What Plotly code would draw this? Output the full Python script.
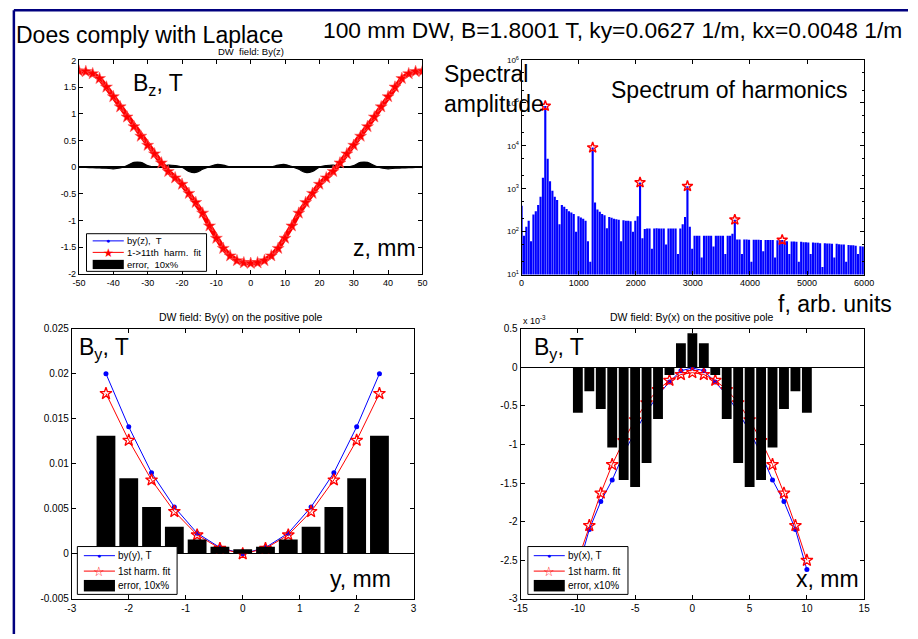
import plotly.graph_objects as go

# ---------------- data ----------------
# Top-left: By(z) along the DW, measured vs 1->11th harmonic fit, error (x10 %)
z_mm = list(range(-50, 52, 2))
bz_meas = [1.80, 1.79, 1.75, 1.66, 1.50, 1.32, 1.13, 0.94, 0.76, 0.58, 0.41, 0.25, 0.08,
           -0.08, -0.20, -0.32, -0.49, -0.66, -0.86, -1.10, -1.33, -1.52, -1.66, -1.75, -1.79, -1.80,
           -1.79, -1.75, -1.66, -1.52, -1.33, -1.10, -0.86, -0.66, -0.49, -0.32, -0.20, -0.08,
           0.08, 0.25, 0.41, 0.58, 0.76, 0.94, 1.13, 1.32, 1.50, 1.66, 1.75, 1.79, 1.80]
bz_fit = [1.80, 1.79, 1.75, 1.66, 1.50, 1.32, 1.13, 0.94, 0.76, 0.58, 0.41, 0.25, 0.08,
          -0.08, -0.20, -0.32, -0.49, -0.66, -0.86, -1.10, -1.33, -1.52, -1.66, -1.75, -1.79, -1.80,
          -1.79, -1.75, -1.66, -1.52, -1.33, -1.10, -0.86, -0.66, -0.49, -0.32, -0.20, -0.08,
          0.08, 0.25, 0.41, 0.58, 0.76, 0.94, 1.13, 1.32, 1.50, 1.66, 1.75, 1.79, 1.80]
err_z = [0.0, -0.005, -0.01, -0.015, -0.02, -0.03, -0.015, 0.03, 0.09, 0.09, 0.03, 0.0, 0.01,
         0.04, 0.03, 0.0, -0.08, -0.10, -0.04, 0.01, 0.05, 0.04, 0.005, -0.005, 0.0, 0.0,
         0.0, -0.005, 0.005, 0.04, 0.05, 0.01, -0.04, -0.10, -0.08, 0.0, 0.03, 0.04,
         0.01, 0.0, 0.03, 0.09, 0.09, 0.03, -0.015, -0.03, -0.02, -0.015, -0.01, -0.005, 0.0]

# Top-right: spectrum of harmonics (bin width 41.5 arb. units)
bin_step = 41.5
spec_amp = [400, 80, 130, 180, 60, 250, 300, 420, 650, 1800,
            85000, 5000, 1500, 900, 650, 550, 150, 420, 380, 340,
            300, 280, 260, 100, 230, 215, 200, 180, 60, 20,
            9100, 480, 330, 290, 260, 240, 120, 220, 210, 200,
            195, 190, 60, 185, 180, 180, 175, 100, 180, 230,
            1400, 70, 115, 118, 118, 40, 118, 120, 118, 118,
            118, 50, 118, 118, 118, 118, 30, 118, 150, 220,
            1150, 130, 40, 80, 80, 80, 25, 80, 80, 80,
            80, 45, 80, 80, 80, 80, 30, 80, 80, 90,
            190, 66, 66, 30, 66, 66, 65, 20, 65, 65,
            65, 64, 35, 64, 64, 64, 64, 25, 63, 63,
            64, 60, 60, 30, 59, 59, 58, 20, 58, 57,
            57, 56, 30, 56, 55, 55, 54, 15, 54, 53,
            53, 52, 25, 52, 51, 50, 50, 20, 49, 48,
            48, 47, 30, 46, 45]
spec_f = [bin_step * k for k in range(len(spec_amp))]
harm_f = [415, 1245, 2075, 2905, 3735, 4565]
harm_amp = [85000, 9100, 1400, 1150, 190, 64]

# Bottom-left: By(y) on the positive pole
y_mm = [-2.4, -2.0, -1.6, -1.2, -0.8, -0.4, 0.0, 0.4, 0.8, 1.2, 1.6, 2.0, 2.4]
by_y = [0.0200, 0.0141, 0.0090, 0.0052, 0.0023, 0.0007, 0.0, 0.0007, 0.0023, 0.0052, 0.0090, 0.0141, 0.0200]
fit_y = [0.0178, 0.0126, 0.0082, 0.0047, 0.0021, 0.0006, 0.0, 0.0006, 0.0021, 0.0047, 0.0082, 0.0126, 0.0178]
err_y = [0.0131, 0.0084, 0.0052, 0.0030, 0.0016, 0.0008, 0.0005, 0.0008, 0.0016, 0.0030, 0.0052, 0.0084, 0.0131]

# Bottom-right: By(x) on the positive pole (units of 1e-3 T)
x_mm = list(range(-10, 11))
by_x = [-2.62, -2.10, -1.74, -1.46, -1.12, -0.83, -0.58, -0.36, -0.19, -0.045, -0.01,
        -0.045, -0.19, -0.36, -0.58, -0.83, -1.12, -1.46, -1.74, -2.10, -2.62]
fit_x = [-2.50, -2.05, -1.63, -1.26, -0.95, -0.68, -0.46, -0.29, -0.17, -0.094, -0.07,
         -0.094, -0.17, -0.29, -0.46, -0.68, -0.95, -1.26, -1.63, -2.05, -2.50]
err_x = [-0.59, -0.31, -0.54, -1.04, -1.46, -1.55, -1.24, -0.67, -0.10, 0.31, 0.44,
         0.31, -0.10, -0.67, -1.24, -1.55, -1.46, -1.04, -0.54, -0.31, -0.59]

# ---------------- layout helpers ----------------
W, H = 918, 639
FONT = "Liberation Sans, Arial, Helvetica, sans-serif"


def fx(p):
    return p / W


def fy(p):
    return 1 - p / H


def fmt(v):
    return f"{v:g}"


def axis(dom, rng, vals, size, anchor, texts=None, **kw):
    d = dict(domain=dom, range=rng, tickvals=vals,
             ticktext=texts if texts is not None else [fmt(v) for v in vals],
             ticks="inside", ticklen=4, tickwidth=1, tickcolor="black",
             showline=True, linecolor="black", linewidth=1, mirror="ticks",
             showgrid=False, zeroline=False, anchor=anchor,
             tickfont=dict(family=FONT, size=size, color="black"))
    d.update(kw)
    return d


fig = go.Figure()

# --- top-left ---
fig.add_trace(go.Scatter(x=z_mm, y=err_z, mode="lines", fill="tozeroy", fillcolor="black",
                         line=dict(color="black", width=1.2, shape="spline"),
                         xaxis="x", yaxis="y", showlegend=False))
fig.add_trace(go.Scatter(x=z_mm, y=bz_meas, mode="lines+markers",
                         line=dict(color="blue", width=1), marker=dict(color="blue", size=4),
                         xaxis="x", yaxis="y", showlegend=False))
fig.add_trace(go.Scatter(x=z_mm, y=bz_fit, mode="lines+markers",
                         line=dict(color="red", width=5),
                         marker=dict(symbol="star", color="red", size=9, line=dict(width=0.6, color="#ff6060")),
                         xaxis="x", yaxis="y", showlegend=False))

# --- top-right ---
fig.add_trace(go.Bar(x=spec_f, y=spec_amp, width=bin_step * 0.9, marker_color="blue",
                     marker_line_width=0, xaxis="x2", yaxis="y2", showlegend=False))
fig.add_trace(go.Scatter(x=harm_f, y=harm_amp, mode="markers",
                         marker=dict(symbol="star-open", color="red", size=8, line=dict(width=1.4, color="red")),
                         xaxis="x2", yaxis="y2", showlegend=False))

# --- bottom-left ---
fig.add_trace(go.Scatter(x=y_mm, y=by_y, mode="lines+markers",
                         line=dict(color="blue", width=1), marker=dict(color="blue", size=5),
                         xaxis="x3", yaxis="y3", showlegend=False))
fig.add_trace(go.Scatter(x=y_mm, y=fit_y, mode="lines+markers",
                         line=dict(color="red", width=1),
                         marker=dict(symbol="star-open", color="red", size=9, line=dict(width=1.3, color="red")),
                         xaxis="x3", yaxis="y3", showlegend=False))
fig.add_trace(go.Bar(x=y_mm, y=err_y, width=0.33, marker_color="black", marker_line_width=0,
                     xaxis="x5", yaxis="y5", showlegend=False))

# --- bottom-right ---
fig.add_trace(go.Scatter(x=x_mm, y=by_x, mode="lines+markers",
                         line=dict(color="blue", width=1), marker=dict(color="blue", size=5),
                         xaxis="x4", yaxis="y4", showlegend=False))
fig.add_trace(go.Scatter(x=x_mm, y=fit_x, mode="lines+markers",
                         line=dict(color="red", width=1),
                         marker=dict(symbol="star-open", color="red", size=9, line=dict(width=1.3, color="red")),
                         xaxis="x4", yaxis="y4", showlegend=False))
fig.add_trace(go.Bar(x=x_mm, y=err_x, width=0.86, marker_color="black", marker_line_width=0,
                     xaxis="x6", yaxis="y6", showlegend=False))

TL_X = [fx(73.3), fx(423.3)]
TL_Y = [fy(272.7), fy(55.3)]
TR_X = [fx(524.3), fx(873.3)]
TR_Y = [fy(273.3), fy(55.0)]
BL_X = [fx(66.0), fx(414.3)]
BL_Y = [fy(603.3), fy(328.3)]
BR_X = [fx(523.3), fx(873.3)]
BR_Y = [fy(603.3), fy(328.3)]

sup = {1: "10<sup>1</sup>", 2: "10<sup>2</sup>", 3: "10<sup>3</sup>", 4: "10<sup>4</sup>",
       5: "10<sup>5</sup>", 6: "10<sup>6</sup>"}

layout_axes = dict(
    xaxis=axis(TL_X, [-50, 50], list(range(-50, 51, 10)), 9, "y"),
    yaxis=axis(TL_Y, [-2, 2], [-2, -1.5, -1, -0.5, 0, 0.5, 1, 1.5, 2], 9, "x",
               zeroline=True, zerolinecolor="black", zerolinewidth=2),
    xaxis2=axis(TR_X, [0, 6000], list(range(0, 6001, 1000)), 9, "y2"),
    yaxis2=axis(TR_Y, [1, 6], [10, 100, 1000, 1e4, 1e5, 1e6], 8, "x2",
                texts=[sup[i] for i in range(1, 7)], type="log",
                minor=dict(ticks="inside", ticklen=2, tickcolor="black", showgrid=False)),
    xaxis3=axis(BL_X, [-3, 3], [-3, -2, -1, 0, 1, 2, 3], 10, "y3"),
    yaxis3=axis(BL_Y, [-0.005, 0.025], [-0.005, 0, 0.005, 0.01, 0.015, 0.02, 0.025], 10, "x3",
                zeroline=True, zerolinecolor="black", zerolinewidth=1),
    xaxis4=axis(BR_X, [-15, 15], [-15, -10, -5, 0, 5, 10, 15], 10, "y4"),
    yaxis4=axis(BR_Y, [-3, 0.5], [-3, -2.5, -2, -1.5, -1, -0.5, 0, 0.5], 10, "x4",
                zeroline=True, zerolinecolor="black", zerolinewidth=1),
    xaxis5=dict(domain=BL_X, range=[-3, 3], overlaying="x3", visible=False, anchor="y5"),
    yaxis5=dict(domain=BL_Y, range=[-0.005, 0.025], overlaying="y3", visible=False, anchor="x5"),
    xaxis6=dict(domain=BR_X, range=[-15, 15], overlaying="x4", visible=False, anchor="y6"),
    yaxis6=dict(domain=BR_Y, range=[-3, 0.5], overlaying="y4", visible=False, anchor="x6"),
)

shapes = []
annotations = []


def text(x, y, s, size, anchor="left", color="black", yanchor="middle", align="left"):
    annotations.append(dict(x=fx(x), y=fy(y), xref="paper", yref="paper", text=s, showarrow=False,
                            xanchor=anchor, yanchor=yanchor, align=align,
                            font=dict(family=FONT, size=size, color=color)))


def legend(box, rows_y, line_x, text_x, rect_y, labels, size, star, star_size):
    x0, y0, x1, y1 = box
    shapes.append(dict(type="rect", xref="paper", yref="paper", x0=fx(x0), x1=fx(x1), y0=fy(y0), y1=fy(y1),
                       fillcolor="white", line=dict(color="black", width=1), layer="above"))
    lx0, lx1 = line_x
    shapes.append(dict(type="line", xref="paper", yref="paper", x0=fx(lx0), x1=fx(lx1),
                       y0=fy(rows_y[0]), y1=fy(rows_y[0]), line=dict(color="blue", width=1), layer="above"))
    shapes.append(dict(type="line", xref="paper", yref="paper", x0=fx(lx0), x1=fx(lx1),
                       y0=fy(rows_y[1]), y1=fy(rows_y[1]), line=dict(color="red", width=1), layer="above"))
    shapes.append(dict(type="rect", xref="paper", yref="paper", x0=fx(lx0), x1=fx(lx1),
                       y0=fy(rect_y[0]), y1=fy(rect_y[1]), fillcolor="black", line=dict(width=0),
                       layer="above"))
    mx = (lx0 + lx1) / 2
    text(mx, rows_y[0], "●", 7, anchor="center", color="blue")
    text(mx, rows_y[1] + 0.5, star, star_size, anchor="center", color="red")
    for ry, lab in zip(rows_y, labels):
        text(text_x, ry, lab, size)


legend((81, 231.7, 203.3, 270), [239, 250.7, 263], (87.3, 119), 120.5, (258.3, 267.7),
       ["by(z),  T", "1->11th  harm.  fit", "error,  10x%"], 9.5, "★", 12)
legend((71.7, 550, 173.3, 598.7), [559.3, 575, 590], (78.3, 110), 111, (584, 595.7),
       ["by(y), T", "1st harm. fit", "error, 10x%"], 10, "☆", 13)
legend((530.7, 550, 632.7, 598.7), [559.3, 575, 590], (536.7, 568.3), 570, (584, 595.7),
       ["by(x), T", "1st harm. fit", "error, x10%"], 10, "☆", 13)

# panel titles
text(248.3, 46, "DW  field: By(z)", 9.5, anchor="center")
text(238.7, 316.7, "DW field: By(y) on the positive pole", 10.5, anchor="center")
text(697.7, 316.7, "DW field: By(x) on the positive pole", 10.5, anchor="center")
text(537.5, 319.3, "x 10<sup>-3</sup>", 9, anchor="center")

# large labels
BIG = 23
text(7.5, 29.3, "Does comply with Laplace", BIG)
text(319.5, 24.7, "100 mm DW, B=1.8001 T, ky=0.0627 1/m, kx=0.0048 1/m", 22.8)
text(126.5, 80, "B<sub>z</sub>, T", BIG)
text(350, 246.7, "z, mm", BIG)
text(443.5, 84, "Spectral<br>amplitude", BIG)
text(613, 85, "Spectrum of harmonics", BIG)
text(784, 303.3, "f, arb. units", BIG)
text(71, 348, "B<sub>y</sub>, T", BIG)
text(327.5, 583.3, "y, mm", BIG)
text(535, 348, "B<sub>y</sub>, T", BIG)
text(802, 583.3, "x, mm", BIG)

# outer frame (navy)
shapes.append(dict(type="line", xref="paper", yref="paper", x0=fx(7), x1=1.0, y0=fy(4.3), y1=fy(4.3),
                   line=dict(color="#00007F", width=2.5), layer="above"))
shapes.append(dict(type="line", xref="paper", yref="paper", x0=fx(7), x1=fx(7), y0=fy(4.3), y1=0.0,
                   line=dict(color="#00007F", width=2.5), layer="above"))

fig.update_layout(
    width=W, height=H, margin=dict(l=0, r=0, t=0, b=0),
    paper_bgcolor="white", plot_bgcolor="white",
    showlegend=False, barmode="overlay",
    shapes=shapes, annotations=annotations,
    font=dict(family=FONT, color="black"),
    **layout_axes,
)

fig.write_html("out.html")
